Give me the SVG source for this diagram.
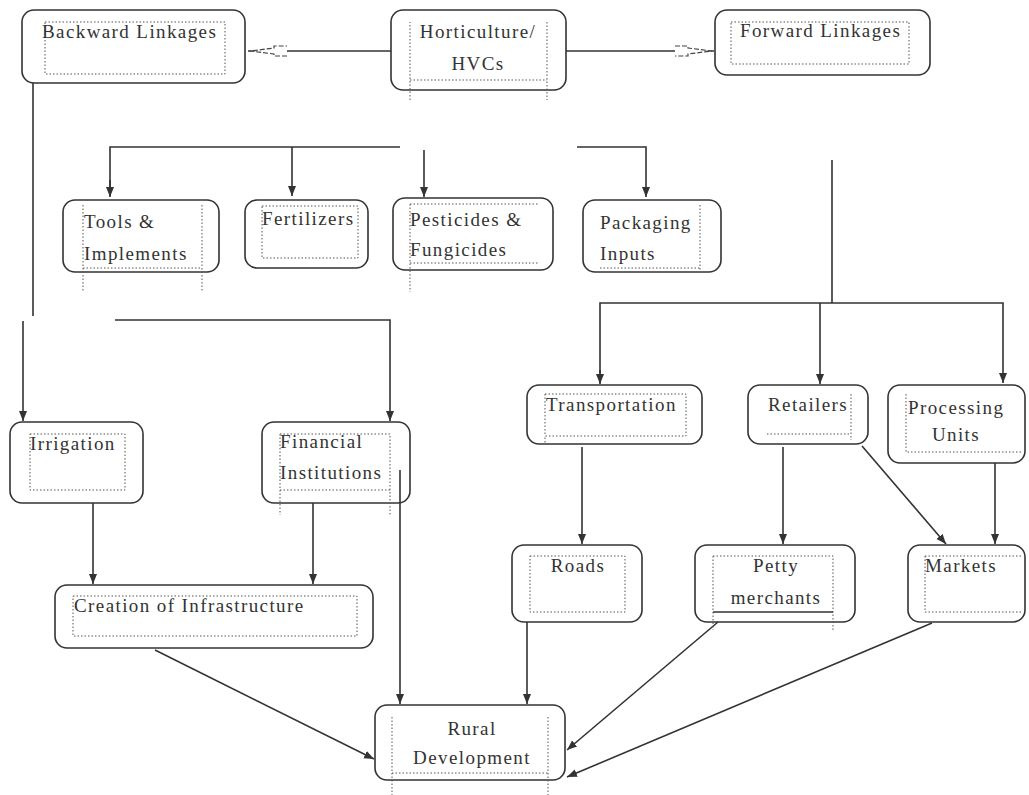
<svg xmlns="http://www.w3.org/2000/svg" width="1029" height="795" viewBox="0 0 1029 795">
<style>
.box{fill:none;stroke:#333;stroke-width:1.6}
.in{fill:none;stroke:#555;stroke-width:1;stroke-dasharray:1.5 2}
.t{font-family:"Liberation Serif","Times New Roman","DejaVu Serif",serif;font-size:19px;letter-spacing:1.4px;fill:#333}
.c{text-anchor:middle}
.ln{fill:none;stroke:#333;stroke-width:1.6}
</style>
<defs>
<marker id="a" viewBox="0 0 10 10" refX="10" refY="5" markerWidth="10" markerHeight="10" markerUnits="userSpaceOnUse" orient="auto">
<path d="M0,1 L10,5 L0,9 z" fill="#333"/>
</marker>
<marker id="o" viewBox="0 0 40 14" refX="40" refY="7" markerWidth="40" markerHeight="14" markerUnits="userSpaceOnUse" orient="auto">
<path d="M1,2 L14,2 L14,4 L38,7 L14,10 L14,12 L1,12" fill="#fff" stroke="#444" stroke-width="1.2" stroke-dasharray="5 2"/>
</marker>
</defs>
<rect width="1029" height="795" fill="#fff"/>

<g id="connectors">
<line class="ln" x1="391" y1="51" x2="248" y2="51" marker-end="url(#o)"/>
<line class="ln" x1="566" y1="51" x2="714" y2="51" marker-end="url(#o)"/>
<line class="ln" x1="33" y1="83" x2="33" y2="316"/>
<line class="ln" x1="23" y1="321" x2="23" y2="421" marker-end="url(#a)"/>
<polyline class="ln" points="115,320 390,320 390,421" marker-end="url(#a)"/>
<polyline class="ln" points="110,196 110,147 400,147"/>
<line class="ln" x1="292" y1="147" x2="292" y2="196" marker-end="url(#a)"/>
<line class="ln" x1="110" y1="180" x2="110" y2="197" marker-end="url(#a)"/>
<line class="ln" x1="424" y1="150" x2="424" y2="197" marker-end="url(#a)"/>
<polyline class="ln" points="577,147 646,147 646,197" marker-end="url(#a)"/>
<line class="ln" x1="832" y1="160" x2="832" y2="303"/>
<polyline class="ln" points="600,383 600,303 1003,303 1003,383" marker-end="url(#a)"/>
<line class="ln" x1="600" y1="370" x2="600" y2="384" marker-end="url(#a)"/>
<line class="ln" x1="820" y1="303" x2="820" y2="384" marker-end="url(#a)"/>
<line class="ln" x1="582" y1="447" x2="582" y2="544" marker-end="url(#a)"/>
<line class="ln" x1="783" y1="447" x2="783" y2="544" marker-end="url(#a)"/>
<line class="ln" x1="862" y1="446" x2="946" y2="544" marker-end="url(#a)"/>
<line class="ln" x1="995" y1="463" x2="995" y2="544" marker-end="url(#a)"/>
<line class="ln" x1="93" y1="503" x2="93" y2="584" marker-end="url(#a)"/>
<line class="ln" x1="313" y1="503" x2="313" y2="584" marker-end="url(#a)"/>
<line class="ln" x1="400" y1="470" x2="400" y2="704" marker-end="url(#a)"/>
<line class="ln" x1="527" y1="622" x2="527" y2="704" marker-end="url(#a)"/>
<line class="ln" x1="155" y1="650" x2="374" y2="759" marker-end="url(#a)"/>
<line class="ln" x1="718" y1="622" x2="567" y2="750" marker-end="url(#a)"/>
<line class="ln" x1="932" y1="623" x2="567" y2="777" marker-end="url(#a)"/>
</g>

<g id="backward">
<rect class="box" x="22" y="10" width="223" height="73" rx="12"/>
<rect class="in" x="45" y="22" width="180" height="52"/>
<text class="t" x="42" y="38">Backward Linkages</text>
</g>
<g id="horticulture">
<rect class="box" x="391" y="10" width="175" height="80" rx="12"/>
<path class="in" d="M410,100 V22 M547,22 V100 M410,80 H547"/>
<text class="t c" x="478" y="38">Horticulture/</text>
<text class="t c" x="478" y="70">HVCs</text>
</g>
<g id="forward">
<rect class="box" x="715" y="10" width="215" height="65" rx="12"/>
<rect class="in" x="731" y="22" width="178" height="42"/>
<text class="t" x="740" y="37">Forward Linkages</text>
</g>

<g id="tools">
<rect class="box" x="63" y="200" width="156" height="72" rx="12"/>
<path class="in" d="M83,205 V292 M202,205 V292 M83,268 H202"/>
<text class="t" x="84" y="228">Tools &amp;</text>
<text class="t" x="84" y="260">Implements</text>
</g>
<g id="fertilizers">
<rect class="box" x="245" y="200" width="123" height="68" rx="12"/>
<rect class="in" x="262" y="206" width="96" height="52"/>
<text class="t" x="262" y="225">Fertilizers</text>
</g>
<g id="pesticides">
<rect class="box" x="393" y="198" width="160" height="72" rx="12"/>
<path class="in" d="M410,204 H538 M410,204 V292 M410,263 H538"/>
<text class="t" x="410" y="226">Pesticides &amp;</text>
<text class="t" x="410" y="256">Fungicides</text>
</g>
<g id="packaging">
<rect class="box" x="583" y="200" width="138" height="72" rx="12"/>
<path class="in" d="M600,268 H700 M700,205 V270"/>
<text class="t" x="600" y="229">Packaging</text>
<text class="t" x="600" y="260">Inputs</text>
</g>

<g id="irrigation">
<rect class="box" x="10" y="422" width="133" height="81" rx="12"/>
<rect class="in" x="30" y="434" width="95" height="56"/>
<text class="t" x="30" y="450">Irrigation</text>
</g>
<g id="financial">
<rect class="box" x="262" y="422" width="148" height="81" rx="12"/>
<path class="in" d="M280,434 H390 V515 M280,434 V515 M280,490 H390"/>
<text class="t" x="280" y="448">Financial</text>
<text class="t" x="280" y="479">Institutions</text>
</g>
<g id="infrastructure">
<rect class="box" x="55" y="585" width="318" height="63" rx="12"/>
<rect class="in" x="73" y="596" width="284" height="40"/>
<text class="t" x="74" y="612">Creation of Infrastructure</text>
</g>

<g id="transportation">
<rect class="box" x="527" y="385" width="175" height="59" rx="12"/>
<path class="in" d="M545,394 H686 V436 H545 V444 M545,394 V436"/>
<text class="t" x="546" y="411">Transportation</text>
</g>
<g id="retailers">
<rect class="box" x="748" y="385" width="120" height="59" rx="12"/>
<path class="in" d="M851,394 V440 M767,434 H851"/>
<text class="t" x="768" y="411">Retailers</text>
</g>
<g id="processing">
<rect class="box" x="888" y="385" width="137" height="78" rx="12"/>
<path class="in" d="M906,394 V452 H1022"/>
<text class="t" x="908" y="414">Processing</text>
<text class="t c" x="956" y="441">Units</text>
</g>

<g id="roads">
<rect class="box" x="512" y="545" width="130" height="77" rx="12"/>
<rect class="in" x="530" y="556" width="95" height="56"/>
<text class="t c" x="578" y="572">Roads</text>
</g>
<g id="petty">
<rect class="box" x="695" y="545" width="160" height="77" rx="12"/>
<path class="in" d="M713,556 H833 V630 M713,556 V630"/>
<line x1="713" y1="612" x2="833" y2="612" stroke="#333" stroke-width="1.3"/>
<text class="t c" x="776" y="572">Petty</text>
<text class="t c" x="776" y="604">merchants</text>
</g>
<g id="markets">
<rect class="box" x="908" y="545" width="117" height="77" rx="12"/>
<path class="in" d="M925,556 H1022 M925,556 V612 H1022"/>
<text class="t" x="925" y="572">Markets</text>
</g>

<g id="rural">
<rect class="box" x="375" y="705" width="190" height="75" rx="12"/>
<path class="in" d="M392,717 V795 M548,717 V795 M392,773 H548"/>
<text class="t c" x="472" y="735">Rural</text>
<text class="t c" x="472" y="764">Development</text>
</g>
</svg>
